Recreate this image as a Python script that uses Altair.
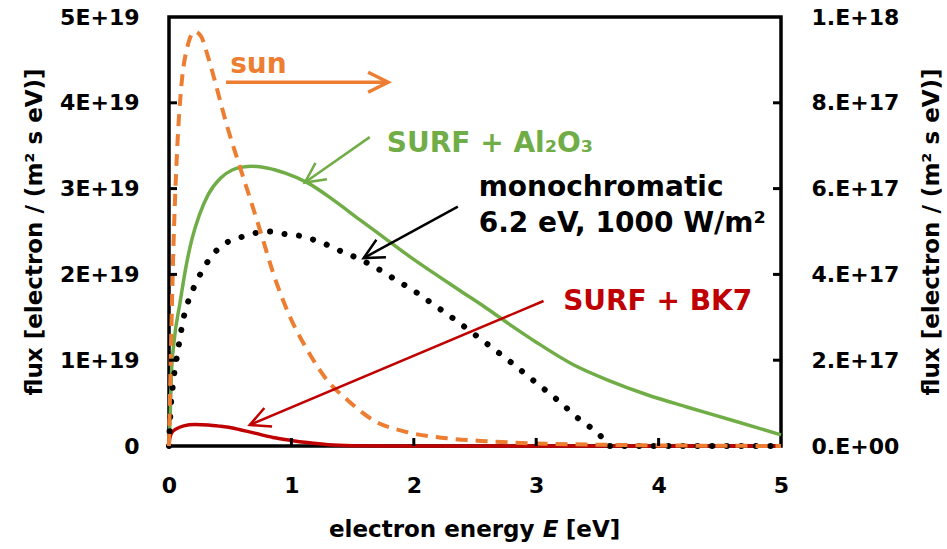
import math
import altair as alt
import pandas as pd

# ---------------- data ----------------
# electron energy E [eV]; left-axis series in units of 1E+19, right-axis series in units of 1E+17
sun_E = [0, 0.015, 0.035, 0.065, 0.10, 0.15, 0.21, 0.26, 0.32, 0.40, 0.46, 0.58, 0.67, 0.76,
         0.85, 0.99, 1.13, 1.29, 1.455, 1.67, 1.95, 2.27, 2.6, 3.0, 3.5, 4.0, 4.5, 5.0]
sun_flux = [0, 1.08, 2.25, 3.41, 4.18, 4.65, 4.83, 4.78, 4.53, 4.12, 3.80, 3.25, 2.85, 2.44,
            2.02, 1.50, 1.12, 0.77, 0.54, 0.30, 0.16, 0.09, 0.055, 0.03, 0.015, 0.007, 0.003, 0.0]

mono_E = [0, 0.01, 0.03, 0.06, 0.09, 0.11, 0.14, 0.18, 0.23, 0.29, 0.37, 0.47, 0.58, 0.70,
          0.82, 0.95, 1.07, 1.19, 1.30, 1.42, 1.54, 1.65, 1.76, 1.87, 1.98, 2.08, 2.18, 2.28,
          2.58, 2.79, 2.98, 3.17, 3.36, 3.55, 3.58, 4.0, 4.5, 5.0]
mono_flux = [0, 0.35, 0.69, 1.0, 1.26, 1.43, 1.61, 1.77, 1.93, 2.09, 2.25, 2.37, 2.43, 2.48,
             2.50, 2.47, 2.45, 2.40, 2.34, 2.26, 2.19, 2.11, 2.02, 1.92, 1.83, 1.73, 1.63, 1.53,
             1.21, 0.98, 0.76, 0.54, 0.30, 0.07, 0, 0, 0, 0]

al2o3_E = [0, 0.01, 0.02, 0.04, 0.09, 0.14, 0.19, 0.25, 0.32, 0.42, 0.52, 0.60, 0.68, 0.80,
           0.95, 1.13, 1.35, 1.56, 1.77, 1.97, 2.2, 2.4, 2.6, 2.8, 3.0, 3.3, 3.6, 3.9, 4.23,
           4.6, 5.0]
al2o3_flux = [0, 0.7, 1.7, 2.4, 3.34, 4.2, 4.85, 5.4, 5.86, 6.24, 6.44, 6.5, 6.52, 6.48,
              6.36, 6.14, 5.72, 5.27, 4.83, 4.41, 3.96, 3.58, 3.2, 2.8, 2.42, 1.9, 1.52, 1.2, 0.91,
              0.6, 0.26]

bk7_E = [0, 0.005, 0.02, 0.06, 0.12, 0.21, 0.32, 0.42, 0.52, 0.58, 0.70, 0.85, 1.0, 1.13,
         1.3, 1.5, 1.8, 5.0]
bk7_flux = [0, 0.16, 0.30, 0.40, 0.47, 0.50, 0.49, 0.46, 0.42, 0.38, 0.30, 0.20, 0.13, 0.08,
            0.03, 0.008, 0, 0]

left_tick_values = [1, 2, 3, 4]
right_tick_values = [2, 4, 6, 8]
x_tick_values = [1, 2, 3, 4]

# annotations (left-axis units)
ann_text = ["sun", "SURF + Al\u2082O\u2083", "monochromatic", "6.2 eV, 1000 W/m\u00b2", "SURF + BK7"]
ann_E = [0.50, 1.78, 2.53, 2.53, 3.22]
ann_v = [4.35, 3.43, 2.91, 2.49, 1.585]
ann_color = ["#ED7D31", "#70AD47", "black", "black", "#C00000"]

arrow_x1 = [0.466, 1.64, 2.36, 3.06]
arrow_y1 = [4.24, 3.60, 2.79, 1.69]
arrow_x2 = [1.79, 1.11, 1.59, 0.66]
arrow_y2 = [4.24, 3.07, 2.19, 0.245]
arrow_color = ["#ED7D31", "#70AD47", "black", "#C00000"]
arrow_width = [3.5, 2.5, 2.5, 2.5]

# x-axis title pieces (the E is italic)
xtitle_parts = ["electron energy", "E", "[eV]"]

# ---------------- chart ----------------
W, H = 612, 429
FONT = "DejaVu Sans"
TITLE_SIZE = 23

x_scale = alt.Scale(domain=[0, 5], nice=False)
yl_scale = alt.Scale(domain=[0, 5], nice=False)
yr_scale = alt.Scale(domain=[0, 10], nice=False)

common_axis = dict(ticks=False, domain=False, grid=False, labelFont=FONT, labelFontWeight="bold",
                   labelFontSize=22, labelColor="black", titleFont=FONT, titleFontWeight="bold",
                   titleFontSize=TITLE_SIZE, titleColor="black")

x_axis = alt.Axis(values=[0, 1, 2, 3, 4, 5], format="d", labelPadding=29, labelFlush=False,
                  labelOverlap=False, title=None, **common_axis)
yl_axis = alt.Axis(values=[0, 1, 2, 3, 4, 5], orient="left", labelPadding=30,
                   labelExpr="datum.value == 0 ? '0' : datum.value + 'E+19'",
                   title="flux [electron / (m\u00b2 s eV)]", titleAngle=270, titleBaseline="middle",
                   titleX=-135, titleY=H / 2, **common_axis)
yr_axis = alt.Axis(values=[0, 2, 4, 6, 8, 10], orient="right", labelPadding=30,
                   labelExpr="datum.value == 0 ? '0.E+00' : (datum.value >= 10 ? '1.E+18' : datum.value + '.E+17')",
                   title="flux [electron / (m\u00b2 s eV)]", titleAngle=270, titleBaseline="middle",
                   titleX=150, titleY=H / 2, **common_axis)


def X(field="E"):
    return alt.X(f"{field}:Q", scale=x_scale, axis=x_axis)


def YL(field="v"):
    return alt.Y(f"{field}:Q", scale=yl_scale, axis=yl_axis)


def YR(field="v"):
    return alt.Y(f"{field}:Q", scale=yr_scale, axis=yr_axis)


sun_df = pd.DataFrame({"E": sun_E, "v": sun_flux})
mono_df = pd.DataFrame({"E": mono_E, "v": mono_flux})
al_df = pd.DataFrame({"E": al2o3_E, "v": al2o3_flux})
bk_df = pd.DataFrame({"E": bk7_E, "v": bk7_flux})

green = alt.Chart(al_df).mark_line(color="#70AD47", strokeWidth=3.5,
                                   interpolate="monotone").encode(x=X(), y=YR())
red = alt.Chart(bk_df).mark_line(color="#C00000", strokeWidth=3.5,
                                 interpolate="monotone").encode(x=X(), y=YR())
rticks = alt.Chart(pd.DataFrame({"v": right_tick_values})).mark_rule(
    color="black", strokeWidth=3).encode(y=YR(), x=alt.value(W - 8), x2=alt.value(W))
right = alt.layer(green, red, rticks)

mono = alt.Chart(mono_df).mark_line(color="black", strokeWidth=6, strokeDash=[0.1, 14.5],
                                    strokeCap="round", interpolate="monotone").encode(x=X(), y=YL())
sun = alt.Chart(sun_df).mark_line(color="#ED7D31", strokeWidth=4, strokeDash=[12, 8],
                                  interpolate="monotone").encode(x=X(), y=YL())
lticks = alt.Chart(pd.DataFrame({"v": left_tick_values})).mark_rule(
    color="black", strokeWidth=3).encode(y=YL(), x=alt.value(0), x2=alt.value(8))
xticks = alt.Chart(pd.DataFrame({"E": x_tick_values})).mark_rule(
    color="black", strokeWidth=3).encode(x=X(), y=alt.value(H - 8), y2=alt.value(H))

arr_df = pd.DataFrame({"x1": arrow_x1, "y1": arrow_y1, "x2": arrow_x2, "y2": arrow_y2,
                       "color": arrow_color, "w": arrow_width})
arr_df["angle"] = [
    math.degrees(math.atan2(-(b2 - b1) * H / 5, (a2 - a1) * W / 5)) % 360
    for a1, b1, a2, b2 in zip(arrow_x1, arrow_y1, arrow_x2, arrow_y2)
]
arrow_lines = alt.Chart(arr_df).mark_rule().encode(
    x=X("x1"), y=YL("y1"), x2="x2:Q", y2="y2:Q",
    color=alt.Color("color:N", scale=None), strokeWidth=alt.StrokeWidth("w:Q", scale=None))
arrow_heads = alt.Chart(arr_df).mark_point(
    shape="M-2,-1L0,0L-2,1", filled=False, size=400, opacity=1).encode(
    x=X("x2"), y=YL("y2"), angle=alt.Angle("angle:Q", scale=None),
    color=alt.Color("color:N", scale=None), strokeWidth=alt.StrokeWidth("w:Q", scale=None))

ann_df = pd.DataFrame({"E": ann_E, "v": ann_v, "label": ann_text, "color": ann_color})
texts = alt.Chart(ann_df).mark_text(align="left", baseline="alphabetic", font=FONT,
                                    fontWeight="bold", fontSize=28).encode(
    x=X(), y=YL(), text="label:N", color=alt.Color("color:N", scale=None))

# x-axis title built from three text pieces so that E can be italic
w1 = 8.60 * TITLE_SIZE    # "electron energy" advance (DejaVu Sans Bold)
gap1 = 0.70 * TITLE_SIZE  # space before the italic E
w2 = 0.72 * TITLE_SIZE    # italic "E"
gap2 = 0.28 * TITLE_SIZE  # space after it
w3 = 2.40 * TITLE_SIZE    # "[eV]"
total = w1 + gap1 + w2 + gap2 + w3
start = W / 2 - total / 2
title_y = H + 84
tdf = pd.DataFrame({"t": xtitle_parts})
t1 = alt.Chart(tdf.iloc[[0]]).mark_text(align="left", baseline="middle", font=FONT,
                                        fontWeight="bold", fontSize=TITLE_SIZE, color="black").encode(
    text="t:N", x=alt.value(start), y=alt.value(title_y))
t2 = alt.Chart(tdf.iloc[[1]]).mark_text(align="left", baseline="middle", font=FONT,
                                        fontWeight="bold", fontStyle="italic",
                                        fontSize=TITLE_SIZE, color="black").encode(
    text="t:N", x=alt.value(start + w1 + gap1), y=alt.value(title_y))
t3 = alt.Chart(tdf.iloc[[2]]).mark_text(align="left", baseline="middle", font=FONT,
                                        fontWeight="bold", fontSize=TITLE_SIZE, color="black").encode(
    text="t:N", x=alt.value(start + w1 + gap1 + w2 + gap2), y=alt.value(title_y))

left = alt.layer(mono, sun, lticks, xticks, arrow_lines, arrow_heads, texts, t1, t2, t3)

chart = alt.layer(right, left).resolve_scale(y="independent").properties(
    width=W, height=H,
    autosize=alt.AutoSizeParams(type="none"),
    padding={"left": 169, "top": 17, "right": 947 - 169 - W, "bottom": 549 - 17 - H},
    background="white",
).configure_view(stroke="black", strokeWidth=3.5)

chart.save("out.html", embed_options={"renderer": "svg", "actions": False})
